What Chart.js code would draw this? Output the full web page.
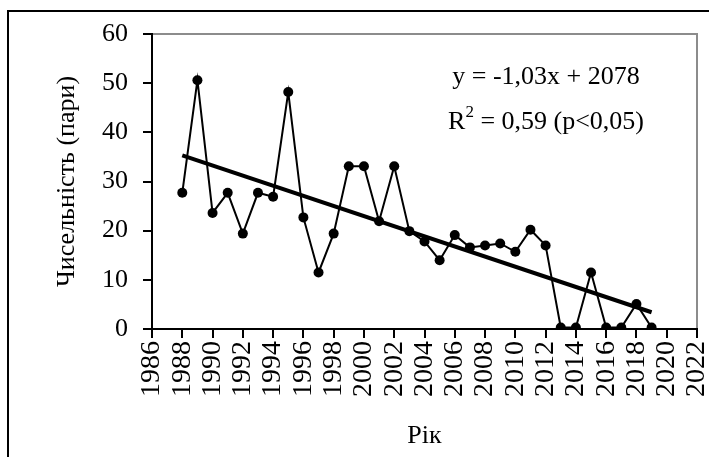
<!DOCTYPE html>
<html>
<head>
<meta charset="utf-8">
<script src="https://cdn.jsdelivr.net/npm/chart.js@4/dist/chart.umd.min.js"></script>
<style>
  html, body { margin: 0; padding: 0; background: #fff; }
  #wrap { position: relative; width: 709px; height: 457px; }
</style>
</head>
<body>
<div id="wrap"><canvas id="c" width="709" height="457"></canvas></div>
<script>
// Annual counts of breeding pairs
const years = [1988, 1989, 1990, 1991, 1992, 1993, 1994, 1995, 1996, 1997,
               1998, 1999, 2000, 2001, 2002, 2003, 2004, 2005, 2006, 2007,
               2008, 2009, 2010, 2011, 2012, 2013, 2014, 2015, 2016, 2017,
               2018, 2019];
const pairs = [27.7, 50.6, 23.6, 27.7, 19.4, 27.7, 26.9, 48.2, 22.7, 11.5,
               19.4, 33.1, 33.1, 21.9, 33.1, 19.9, 17.8, 14.0, 19.1, 16.6,
               17.0, 17.4, 15.7, 20.2, 17.0, 0.3, 0.3, 11.5, 0.3, 0.3,
               5.1, 0.3];

const xRange = [1986, 2022];
const yRange = [0, 60];
const xStep = 2;
const yStep = 10;

const xTitle = 'Рік';
const yTitle = 'Чисельність (пари)';
const equationText = 'y = -1,03x + 2078';
const r2Parts = ['R', '2', ' = 0,59 (p<0,05)'];

const FONT = '"Liberation Serif", "Times New Roman", serif';

// Ordinary least squares fit of pairs on years
function linearFit(xs, ys) {
  const n = xs.length;
  const mx = xs.reduce((a, b) => a + b, 0) / n;
  const my = ys.reduce((a, b) => a + b, 0) / n;
  let sxy = 0, sxx = 0;
  for (let i = 0; i < n; i++) {
    sxy += (xs[i] - mx) * (ys[i] - my);
    sxx += (xs[i] - mx) * (xs[i] - mx);
  }
  const slope = sxy / sxx;
  return { slope, intercept: my - slope * mx };
}

const fit = linearFit(years, pairs);
const trendYears = [years[0], years[years.length - 1]];
const trendPoints = trendYears.map(x => ({ x, y: fit.slope * x + fit.intercept }));
const seriesPoints = years.map((x, i) => ({ x, y: pairs[i] }));

// Outer frame, plot border and the regression caption
const decorPlugin = {
  id: 'decor',
  beforeDraw(chart) {
    const ctx = chart.ctx;
    ctx.save();
    ctx.fillStyle = '#fff';
    ctx.fillRect(0, 0, chart.width, chart.height);
    ctx.strokeStyle = '#000';
    ctx.lineWidth = 2;
    ctx.beginPath();
    ctx.moveTo(8, chart.height);
    ctx.lineTo(8, 11);
    ctx.lineTo(chart.width, 11);
    ctx.stroke();
    const a = chart.chartArea;
    ctx.strokeStyle = '#8c8c8c';
    ctx.beginPath();
    ctx.moveTo(a.left, a.top);
    ctx.lineTo(a.right, a.top);
    ctx.lineTo(a.right, a.bottom);
    ctx.stroke();
    ctx.restore();
  },
  afterDraw(chart) {
    const ctx = chart.ctx;
    const a = chart.chartArea;
    const cx = a.left + (a.right - a.left) * 0.723;
    ctx.save();
    ctx.fillStyle = '#000';
    ctx.textBaseline = 'middle';
    ctx.font = '26px ' + FONT;
    ctx.textAlign = 'center';
    ctx.fillText(equationText, cx, a.top + 43);

    // second line with a superscript
    ctx.textAlign = 'left';
    const big = '26px ' + FONT, small = '17px ' + FONT;
    ctx.font = big;
    const w0 = ctx.measureText(r2Parts[0]).width;
    const w2 = ctx.measureText(r2Parts[2]).width;
    ctx.font = small;
    const w1 = ctx.measureText(r2Parts[1]).width;
    let x = cx - (w0 + w1 + w2) / 2;
    const y = a.top + 88;
    ctx.font = big;
    ctx.fillText(r2Parts[0], x, y);
    x += w0;
    ctx.font = small;
    ctx.fillText(r2Parts[1], x, y - 9);
    x += w1;
    ctx.font = big;
    ctx.fillText(r2Parts[2], x, y);
    ctx.restore();
  }
};

const axisGrid = { drawOnChartArea: false, drawTicks: true, tickLength: 9, color: '#000', lineWidth: 2 };
const axisBorder = { display: true, color: '#000', width: 2 };

new Chart(document.getElementById('c'), {
  type: 'line',
  data: {
    datasets: [
      {
        data: seriesPoints,
        borderColor: '#000',
        borderWidth: 2,
        backgroundColor: '#000',
        pointBackgroundColor: '#000',
        pointBorderColor: '#000',
        pointRadius: 5,
        pointBorderWidth: 0,
        tension: 0,
        order: 0
      },
      {
        data: trendPoints,
        borderColor: '#000',
        borderWidth: 4,
        pointRadius: 0,
        tension: 0,
        order: 1
      }
    ]
  },
  options: {
    responsive: false,
    animation: false,
    devicePixelRatio: 1,
    layout: { padding: { left: 0, top: 34, right: 12, bottom: 0 } },
    plugins: { legend: { display: false }, tooltip: { enabled: false } },
    scales: {
      x: {
        type: 'linear',
        min: xRange[0],
        max: xRange[1],
        ticks: {
          stepSize: xStep,
          autoSkip: false,
          minRotation: 90,
          maxRotation: 90,
          padding: 3,
          color: '#000',
          font: { family: FONT, size: 28 },
          callback: v => String(v)
        },
        grid: axisGrid,
        border: axisBorder,
        title: {
          display: true,
          text: xTitle,
          color: '#000',
          font: { family: FONT, size: 26 },
          padding: { top: 0, bottom: 5 }
        },
        afterFit(s) { s.height = 128; s.paddingLeft = 0; s.paddingRight = 0; }
      },
      y: {
        min: yRange[0],
        max: yRange[1],
        ticks: {
          stepSize: yStep,
          padding: 15,
          color: '#000',
          font: { family: FONT, size: 26 }
        },
        grid: axisGrid,
        border: axisBorder,
        title: {
          display: true,
          text: yTitle,
          color: '#000',
          font: { family: FONT, size: 26 },
          padding: { top: 52, bottom: 0 }
        },
        afterFit(s) { s.width = 152; s.paddingTop = 0; s.paddingBottom = 0; }
      }
    }
  },
  plugins: [decorPlugin]
});
</script>
</body>
</html>
